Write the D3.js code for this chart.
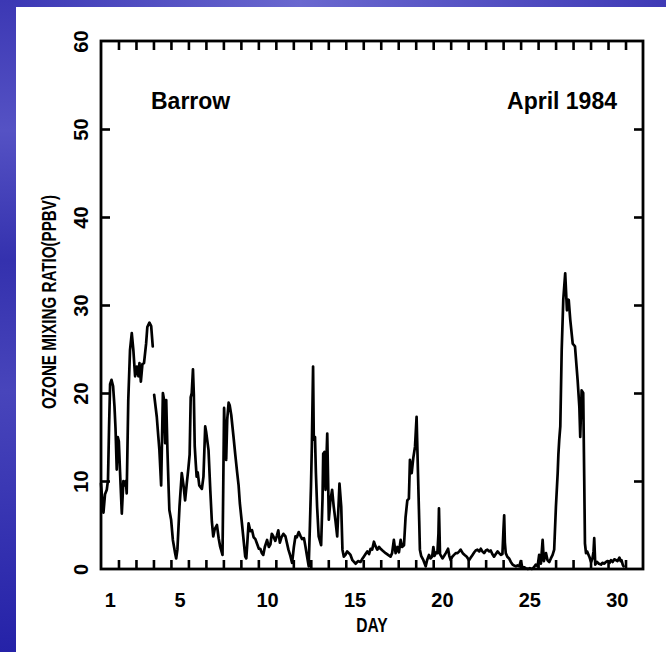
<!DOCTYPE html>
<html>
<head>
<meta charset="utf-8">
<script src="https://cdn.jsdelivr.net/npm/d3@7"></script>
<style>
  html, body { margin: 0; padding: 0; background: #3934b2; }
  svg { display: block; }
</style>
</head>
<body>
<svg id="chart" width="666" height="652"></svg>
<script>
// Surface ozone at Barrow, April 1984 (day of month, fractional; ppbv).
// A null value marks the data gap early on day 4.
const obsDay = [
  1.00, 1.10, 1.14, 1.23, 1.33, 1.40, 1.46, 1.52, 1.60, 1.69,
  1.77, 1.83, 1.90, 1.96, 2.02, 2.09, 2.19, 2.28, 2.35, 2.42,
  2.47, 2.56, 2.66, 2.76, 2.85, 2.95, 3.05, 3.14, 3.20, 3.28,
  3.37, 3.46, 3.58, 3.65, 3.77, 3.87, 3.96,
  4.00,
  4.04, 4.19, 4.28, 4.34, 4.44, 4.54, 4.60, 4.67, 4.73, 4.80,
  4.87, 4.91, 5.01, 5.11, 5.24, 5.30, 5.37, 5.49, 5.62, 5.72,
  5.81, 5.91, 6.00, 6.07, 6.13, 6.19, 6.26, 6.31, 6.36, 6.42,
  6.47, 6.53, 6.62, 6.77, 6.86, 6.96, 7.02, 7.15, 7.25, 7.34,
  7.42, 7.50, 7.63, 7.73, 7.82, 7.95, 8.04, 8.11, 8.16, 8.22,
  8.30, 8.36, 8.45, 8.58, 8.68, 8.78, 8.87, 8.94, 9.06, 9.17,
  9.25, 9.31, 9.37, 9.44, 9.54, 9.64, 9.73, 9.83, 9.92, 10.03,
  10.11, 10.20, 10.28, 10.37, 10.50, 10.60, 10.69, 10.77, 10.86, 10.97,
  11.06, 11.14, 11.23, 11.32, 11.43, 11.55, 11.63, 11.72, 11.83, 11.93,
  12.03, 12.12, 12.20, 12.31, 12.40, 12.50, 12.61, 12.69, 12.78, 12.88,
  12.95, 13.01, 13.06, 13.13, 13.17, 13.24, 13.29, 13.36, 13.45, 13.59,
  13.67, 13.71, 13.78, 13.84, 13.94, 14.03, 14.12, 14.22, 14.31, 14.41,
  14.51, 14.64, 14.74, 14.81, 14.89, 14.98, 15.08, 15.18, 15.27, 15.38,
  15.56, 15.70, 15.84, 15.93, 16.03, 16.13, 16.23, 16.33, 16.42, 16.51,
  16.61, 16.70, 16.80, 16.90, 16.99, 17.10, 17.28, 17.42, 17.56, 17.65,
  17.75, 17.85, 17.95, 18.04, 18.14, 18.22, 18.33, 18.42, 18.52, 18.61,
  18.67, 18.77, 18.86, 18.96, 19.05, 19.13, 19.20, 19.24, 19.31, 19.44,
  19.57, 19.65, 19.76, 19.85, 19.94, 20.01, 20.08, 20.17, 20.24, 20.30,
  20.33, 20.39, 20.53, 20.63, 20.72, 20.85, 20.92, 21.00, 21.09, 21.19,
  21.29, 21.39, 21.49, 21.57, 21.69, 21.80, 21.92, 22.05, 22.15, 22.25,
  22.35, 22.43, 22.53, 22.64, 22.72, 22.81, 22.91, 23.01, 23.10, 23.21,
  23.29, 23.38, 23.48, 23.58, 23.68, 23.77, 23.87, 23.96, 24.02, 24.06,
  24.10, 24.15, 24.24, 24.34, 24.44, 24.54, 24.63, 24.73, 24.82, 24.92,
  25.01, 25.11, 25.20, 25.30, 25.41, 25.53, 25.64, 25.76, 25.87, 25.97,
  26.06, 26.16, 26.26, 26.33, 26.45, 26.54, 26.64, 26.73, 26.83, 26.92,
  27.02, 27.12, 27.16, 27.21, 27.27, 27.35, 27.44, 27.55, 27.65, 27.75,
  27.84, 27.98, 28.11, 28.26, 28.36, 28.41, 28.49, 28.58, 28.64, 28.68,
  28.74, 28.80, 28.93, 29.03, 29.11, 29.17, 29.21, 29.27, 29.37, 29.48,
  29.60, 29.68, 29.79, 29.88, 29.98, 30.09, 30.17, 30.26, 30.36, 30.46,
  30.54, 30.65, 30.72, 30.77, 30.84, 30.89
];

const obsOzone = [
  9.7, 7.1, 6.4, 8.5, 9.0, 10.1, 16.0, 21.0, 21.5, 20.8,
  18.5, 16.0, 11.3, 15.0, 14.5, 11.0, 6.3, 10.0, 9.5, 10.0,
  8.6, 19.2, 24.9, 26.8, 24.9, 21.9, 23.0, 21.9, 23.4, 21.3,
  23.3, 23.4, 25.6, 27.5, 28.0, 27.6, 25.3,
  null,
  19.8, 17.3, 15.0, 13.5, 9.5, 20.0, 19.3, 14.3, 19.2, 13.5,
  9.0, 6.7, 5.6, 3.3, 1.8, 1.2, 2.2, 7.1, 10.9, 9.5,
  7.8, 9.8, 11.5, 13.0, 19.5, 20.0, 22.7, 19.8, 14.0, 12.0,
  10.5, 11.0, 9.5, 9.1, 10.5, 16.2, 15.5, 13.5, 9.0, 5.4,
  3.7, 4.5, 5.0, 3.5, 2.5, 1.6, 18.3, 14.0, 12.4, 17.0,
  18.9, 18.6, 17.5, 15.0, 13.0, 11.1, 9.5, 7.5, 5.2, 3.0,
  1.4, 1.2, 3.0, 5.2, 4.3, 4.4, 3.6, 3.4, 2.9, 2.3,
  2.3, 1.8, 1.6, 2.5, 3.3, 2.5, 2.8, 4.0, 3.7, 3.2,
  3.8, 4.4, 3.0, 3.6, 4.0, 3.7, 3.0, 2.2, 1.5, 0.7,
  2.5, 3.7, 3.6, 4.2, 3.8, 3.4, 3.5, 2.6, 1.5, 0.3,
  5.0, 9.4, 14.0, 23.0, 14.7, 15.0, 11.0, 7.1, 3.7, 2.7,
  8.0, 13.1, 13.3, 9.0, 15.4, 5.6, 7.8, 9.0, 7.1, 5.5,
  3.7, 9.7, 7.1, 2.2, 1.4, 1.6, 2.0, 1.8, 1.6, 1.0,
  0.6, 0.9, 0.8, 1.1, 1.4, 1.7, 2.0, 1.7, 2.3, 2.2,
  3.1, 2.6, 2.2, 2.5, 2.3, 2.1, 1.8, 1.6, 1.4, 1.8,
  3.3, 1.8, 2.5, 1.9, 3.3, 2.5, 2.7, 5.9, 7.8, 8.0,
  12.4, 10.9, 12.6, 13.9, 17.3, 10.9, 5.5, 2.2, 1.5, 1.0,
  0.3, 1.0, 1.6, 1.2, 1.4, 2.5, 1.5, 1.9, 1.8, 4.0,
  6.9, 1.7, 1.2, 1.5, 1.8, 2.3, 1.5, 1.0, 1.4, 1.6,
  1.8, 1.8, 2.0, 2.2, 1.8, 1.6, 1.4, 1.0, 1.3, 1.6,
  1.9, 2.1, 2.2, 2.0, 2.3, 2.0, 1.8, 2.1, 2.2, 2.0,
  2.1, 1.7, 1.4, 1.7, 2.0, 1.8, 1.6, 1.7, 4.5, 6.1,
  3.0, 1.8, 1.4, 1.2, 0.8, 0.5, 0.4, 0.3, 0.4, 0.3,
  0.9, 0.1, 0.2, 0.1, 0.0, 0.1, 0.0, 0.2, 0.5, 0.3,
  1.6, 0.6, 3.3, 0.9, 1.8, 1.0, 0.8, 1.2, 1.6, 2.2,
  7.1, 10.9, 13.0, 14.7, 16.2, 24.9, 30.6, 33.6, 29.4, 30.6,
  28.3, 25.6, 25.3, 21.5, 18.4, 15.0, 20.3, 20.0, 10.0, 2.9,
  1.8, 2.0, 1.4, 0.8, 1.2, 2.0, 3.5, 0.5, 0.8, 0.6,
  0.5, 0.7, 0.6, 0.8, 0.9, 0.7, 1.0, 0.8, 1.1, 1.0,
  0.9, 1.3, 0.9, 1.0, 0.5, 0.3
];

const dayBoundaries = d3.range(2, 32);          // midnight ticks between days
const dayLabels = [1, 5, 10, 15, 20, 25, 30];   // labelled days (centred within each day)
const ozoneTicks = [10, 20, 30, 40, 50];
const ozoneLabels = [0, 10, 20, 30, 40, 50, 60];
const stationName = "Barrow";
const periodName = "April 1984";
const xTitle = "DAY";
const yTitle = "OZONE MIXING RATIO(PPBV)";

const W = 666, H = 652;
const plot = { left: 101, right: 643, top: 41, bottom: 569 };

const svg = d3.select("#chart");
const defs = svg.append("defs");

// Slide-style blue backdrop
const bg = defs.append("linearGradient").attr("id", "bgGrad")
  .attr("x1", 0).attr("y1", 0).attr("x2", 1).attr("y2", 0);
bg.append("stop").attr("offset", "0%").attr("stop-color", "#3a36b4");
bg.append("stop").attr("offset", "45%").attr("stop-color", "#6a68cf");
bg.append("stop").attr("offset", "100%").attr("stop-color", "#3f3ab6");

const side = defs.append("linearGradient").attr("id", "sideGrad")
  .attr("x1", 0).attr("y1", 0).attr("x2", 0).attr("y2", 1);
side.append("stop").attr("offset", "0%").attr("stop-color", "#3c38b4");
side.append("stop").attr("offset", "20%").attr("stop-color", "#5552c4");
side.append("stop").attr("offset", "40%").attr("stop-color", "#3431ae");
side.append("stop").attr("offset", "60%").attr("stop-color", "#4845bb");
side.append("stop").attr("offset", "100%").attr("stop-color", "#2522a8");

svg.append("rect").attr("width", W).attr("height", H).attr("fill", "url(#bgGrad)");
svg.append("rect").attr("x", 0).attr("y", 0).attr("width", 16).attr("height", H).attr("fill", "url(#sideGrad)");
svg.append("rect").attr("x", 16).attr("y", 7).attr("width", W - 16).attr("height", H - 7).attr("fill", "#ffffff");

const x = d3.scaleLinear().domain([1, 32]).range([plot.left, plot.right]);
const y = d3.scaleLinear().domain([0, 60]).range([plot.bottom, plot.top]);

const font = "'Liberation Sans', Arial, Helvetica, sans-serif";
const tickLen = 9;

function styleTicks(g) {
  g.select(".domain").remove();
  g.selectAll(".tick line").attr("stroke", "#000").attr("stroke-width", 2.6);
  g.selectAll(".tick text").remove();
}

// Inward day ticks on bottom and top
svg.append("g").attr("transform", `translate(0,${plot.bottom})`)
  .call(d3.axisBottom(x).tickValues(dayBoundaries).tickSize(-tickLen)).call(styleTicks);
svg.append("g").attr("transform", `translate(0,${plot.top})`)
  .call(d3.axisTop(x).tickValues(dayBoundaries).tickSize(-tickLen)).call(styleTicks);

// Inward ozone ticks on left and right
svg.append("g").attr("transform", `translate(${plot.left},0)`)
  .call(d3.axisLeft(y).tickValues(ozoneTicks).tickSize(-tickLen)).call(styleTicks);
svg.append("g").attr("transform", `translate(${plot.right},0)`)
  .call(d3.axisRight(y).tickValues(ozoneTicks).tickSize(-tickLen)).call(styleTicks);

// Day labels, centred on the middle of each day
const xLab = svg.append("g").attr("transform", `translate(0,${plot.bottom})`)
  .call(d3.axisBottom(x).tickValues(dayLabels.map(d => d + 0.5)).tickSize(0).tickPadding(0)
    .tickFormat(d => String(Math.floor(d))));
xLab.select(".domain").remove();
xLab.selectAll(".tick text")
  .attr("y", 37.5).attr("dy", null)
  .attr("font-family", font).attr("font-size", 20).attr("font-weight", "bold")
  .attr("fill", "#000");

// Ozone labels, rotated to read bottom-to-top
const yLab = svg.append("g").attr("transform", `translate(${plot.left},0)`)
  .call(d3.axisLeft(y).tickValues(ozoneLabels).tickSize(0).tickPadding(0));
yLab.select(".domain").remove();
yLab.selectAll(".tick text")
  .attr("x", null).attr("dy", null)
  .attr("text-anchor", "middle")
  .attr("transform", "translate(-13,0) rotate(-90)")
  .attr("font-family", font).attr("font-size", 20).attr("font-weight", "bold")
  .attr("fill", "#000");

// Ozone trace
const line = d3.line()
  .defined(i => obsOzone[i] !== null)
  .x(i => x(obsDay[i]))
  .y(i => y(obsOzone[i]))
  .curve(d3.curveLinear);

svg.append("path")
  .datum(d3.range(obsDay.length))
  .attr("d", line)
  .attr("fill", "none")
  .attr("stroke", "#000")
  .attr("stroke-width", 2.7)
  .attr("stroke-linejoin", "round")
  .attr("stroke-linecap", "round");

// Plot frame
svg.append("rect")
  .attr("x", plot.left).attr("y", plot.top)
  .attr("width", plot.right - plot.left).attr("height", plot.bottom - plot.top)
  .attr("fill", "none").attr("stroke", "#000").attr("stroke-width", 2.8);

// Station and period annotations
svg.append("text").attr("x", 151).attr("y", 109)
  .attr("font-family", font).attr("font-size", 23).attr("font-weight", "bold")
  .attr("fill", "#000").text(stationName);
svg.append("text").attr("x", 617).attr("y", 109).attr("text-anchor", "end")
  .attr("font-family", font).attr("font-size", 23).attr("font-weight", "bold")
  .attr("fill", "#000").text(periodName);

// Axis titles (narrow bold lettering)
svg.append("text")
  .attr("transform", `translate(${(plot.left + plot.right) / 2},632) scale(0.78,1)`)
  .attr("text-anchor", "middle")
  .attr("font-family", font).attr("font-size", 20).attr("font-weight", "bold")
  .attr("fill", "#000").text(xTitle);

svg.append("text")
  .attr("transform", `translate(56,302) rotate(-90) scale(0.76,1)`)
  .attr("text-anchor", "middle")
  .attr("font-family", font).attr("font-size", 20).attr("font-weight", "bold")
  .attr("fill", "#000").text(yTitle);
</script>
</body>
</html>
